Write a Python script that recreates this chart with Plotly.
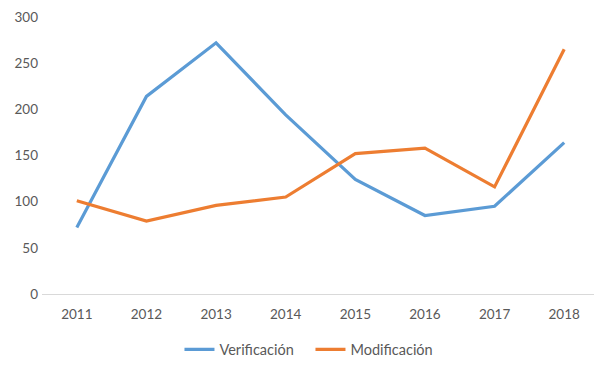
import plotly.graph_objects as go

years = ["2011", "2012", "2013", "2014", "2015", "2016", "2017", "2018"]
verificacion = [72, 214, 272, 194, 124, 85, 95, 164]
modificacion = [101, 79, 96, 105, 152, 158, 116, 265]
y_ticks = [0, 50, 100, 150, 200, 250, 300]

fig = go.Figure()
fig.add_trace(go.Scatter(x=years, y=verificacion, mode="lines", name="Verificación",
                         line=dict(color="#5B9BD5", width=3.2)))
fig.add_trace(go.Scatter(x=years, y=modificacion, mode="lines", name="Modificación",
                         line=dict(color="#ED7D31", width=3.2)))

font = dict(family="Lato, 'Open Sans', sans-serif", size=13, color="#595959")
fig.update_layout(
    width=594, height=359,
    margin=dict(l=34, r=3, t=9, b=73, autoexpand=False),
    paper_bgcolor="white", plot_bgcolor="white",
    font=font,
    showlegend=True,
    legend=dict(orientation="h", x=0.482, xanchor="center", y=-0.2, yanchor="middle",
                font=dict(family="Lato, 'Open Sans', sans-serif", size=14.5, color="#595959"),
                itemwidth=30, traceorder="normal", entrywidth=86),
    xaxis=dict(type="category", showgrid=False, showline=True, linecolor="#D9D9D9", linewidth=1,
               ticks="", tickfont=dict(size=13.5, color="#595959"), ticklabelstandoff=8,
               range=[-0.5, 7.5], automargin=False),
    yaxis=dict(range=[0, 300], tickvals=y_ticks, showgrid=False, zeroline=False, showline=False,
               ticks="", tickfont=dict(size=13.5, color="#595959"), ticklabelstandoff=3,
               automargin=False),
)
fig.write_html("out.html")
